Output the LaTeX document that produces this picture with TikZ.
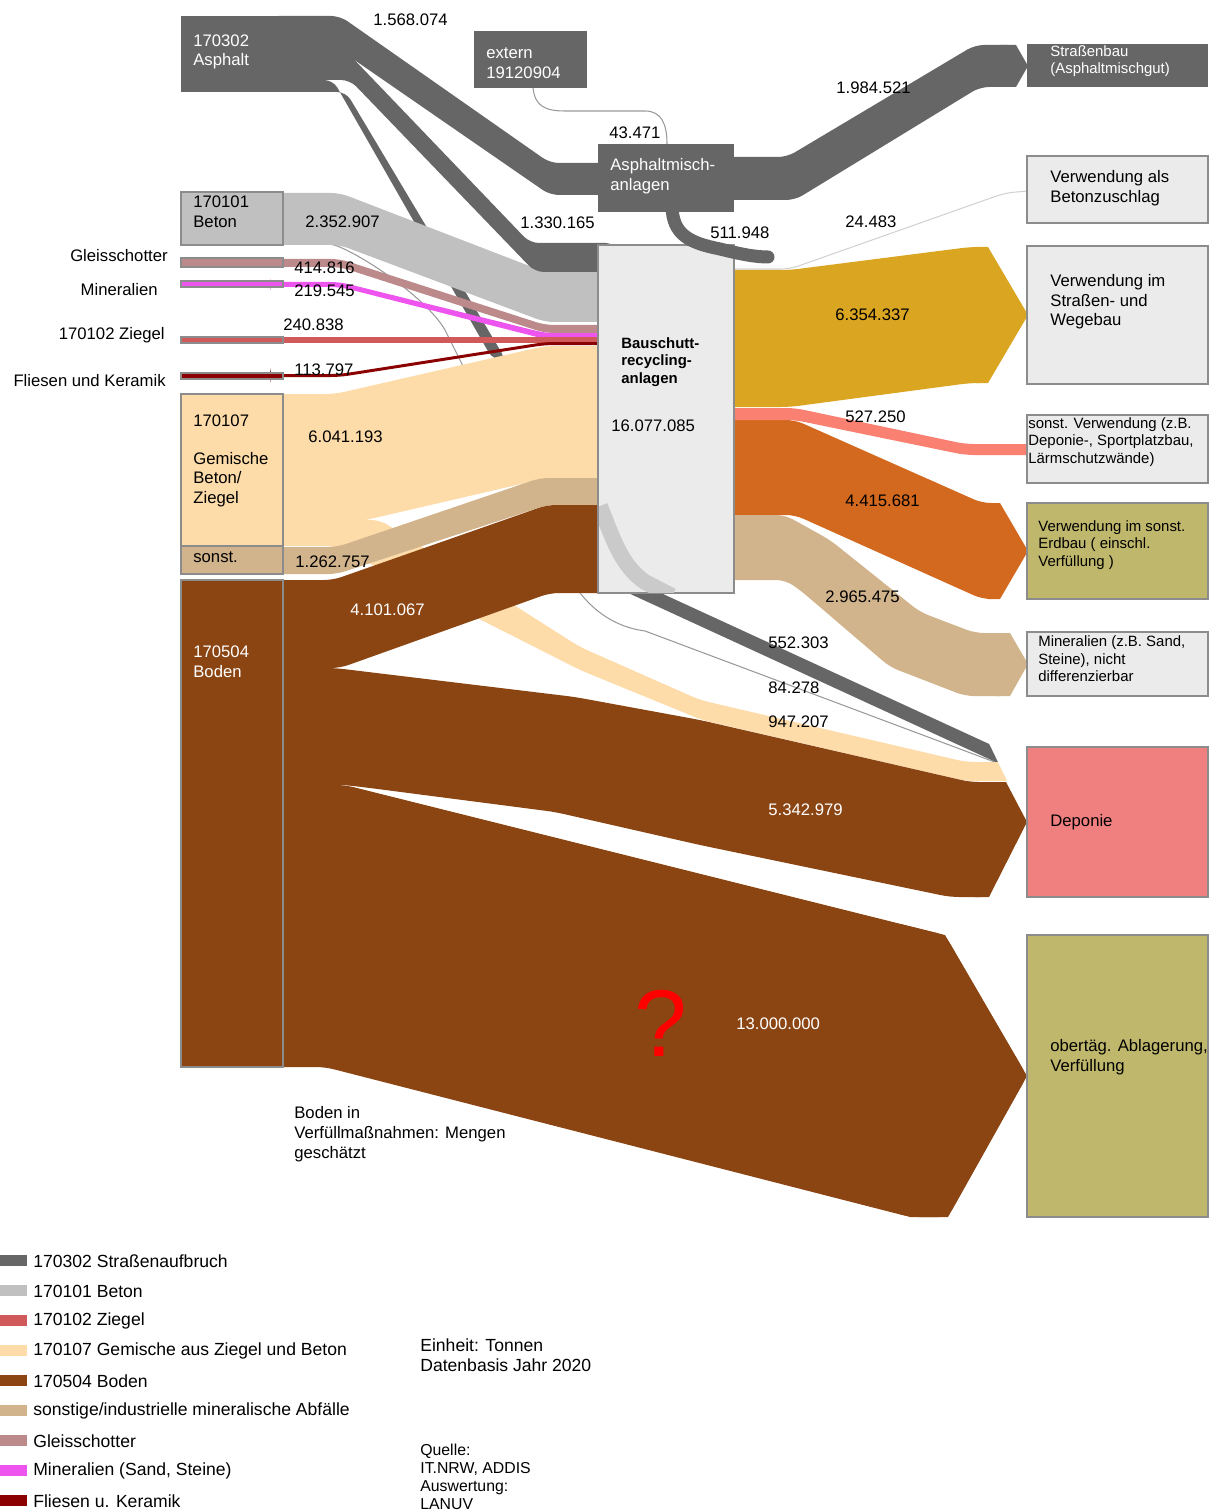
\documentclass[tikz,border=0pt]{standalone}
\usepackage{fontspec}
\setmainfont{Liberation Sans}

\definecolor{asphalt}{HTML}{666666}
\definecolor{beton}{HTML}{C0C0C0}
\definecolor{boxfill}{HTML}{EBEBEB}
\definecolor{boxline}{HTML}{8C8C8C}
\definecolor{lightflow}{HTML}{CACACA}
\definecolor{gleis}{HTML}{BC8A8A}
\definecolor{mineral}{HTML}{EE55EE}
\definecolor{ziegel}{HTML}{D05A5A}
\definecolor{fliesen}{HTML}{8B0000}
\definecolor{gemisch}{HTML}{FDDCA9}
\definecolor{sonst}{HTML}{D2B48C}
\definecolor{boden}{HTML}{8B4513}
\definecolor{strasse}{HTML}{DAA520}
\definecolor{lachs}{HTML}{FA8072}
\definecolor{erdbau}{HTML}{D2691E}
\definecolor{oliv}{HTML}{BFB76B}
\definecolor{deponie}{HTML}{F08080}

\newcommand\lblsize{\fontsize{9.5}{11.2}\selectfont}
\newcommand\boxsize{\fontsize{8.5}{9.9}\selectfont}
\newcommand\legsize{\fontsize{10}{12}\selectfont}

\begin{document}
\begin{tikzpicture}[x=0.02cm, y=-0.02cm,
    lbl/.style={font=\lblsize, inner sep=0pt, anchor=west, align=left},
    lblw/.style={lbl, text=white},
    boxtxt/.style={font=\boxsize, inner sep=0pt, anchor=west, align=left},
    side/.style={font=\lblsize, inner sep=0pt, anchor=east},
    legtxt/.style={font=\legsize, inner sep=0pt, anchor=west},
    box/.style={draw=boxline, line width=0.7pt},
    band/.style={rounded corners=5pt},
    thinflow/.style={draw=gray!80, line width=0.6pt}]

\useasboundingbox (0,0) rectangle (1213,1510);

% Beton to Deponie (thin line, mostly hidden)
\draw[thinflow] (330,244) .. controls (350,247) and (425,295) .. (445,330) -- (560,560) .. controls (575,592) and (600,625) .. (645,631) -- (1000,764);

% Strassenaufbruch to Deponie
\fill[asphalt, band] (270,80) -- (333,80) -- (493,360) -- (506,360) -- (346,92) -- (270,92) -- cycle;
\fill[asphalt] (600,565) -- (1000,749) -- (1000,764) -- (600,580) -- cycle;

% Gemische to Deponie
\fill[gemisch, band] (270,520) -- (380,520) -- (580,647) -- (700,700) -- (966,762) -- (1020,762) -- (1020,781) -- (966,781) -- (702,720) -- (580,670) -- (335,546) -- (270,546) -- cycle;

% cut of the flows at Deponie
\fill[white] (985,735) -- (1030,735) -- (1030,822) -- (1027,822) -- cycle;

% inputs of Bauschuttrecycling
\fill[beton, band] (270,193) -- (340,193) -- (545,272) -- (615,272) -- (615,322) -- (545,322) -- (340,245) -- (270,245) -- cycle;
\fill[gleis, band] (270,259) -- (340,259) -- (545,325) -- (615,325) -- (615,333) -- (545,333) -- (340,267) -- (270,267) -- cycle;
\fill[mineral, band] (270,282) -- (340,282) -- (545,333) -- (615,333) -- (615,339) -- (545,339) -- (340,287) -- (270,287) -- cycle;
\fill[ziegel] (270,337) rectangle (615,343);
\fill[fliesen, band] (270,374) -- (340,374) -- (545,342) -- (615,342) -- (615,345) -- (545,345) -- (340,377) -- (270,377) -- cycle;

% Strassenaufbruch to Bauschuttrecycling and Asphaltmischanlagen
\fill[asphalt, band] (270,50) -- (345,50) -- (530,243) -- (615,243) -- (615,272) -- (535,272) -- (350,80) -- (270,80) -- cycle;
\fill[asphalt, band] (270,16) -- (340,16) -- (550,163) -- (615,163) -- (615,195) -- (550,195) -- (340,50) -- (270,50) -- cycle;

% Gemische, sonst. and Boden
\fill[gemisch, band] (270,394) -- (335,394) -- (545,346) -- (615,346) -- (615,478) -- (547,478) -- (340,526) -- (270,526) -- cycle;
\fill[sonst, band] (270,547) -- (337,547) -- (540,478) -- (615,478) -- (615,505) -- (547,505) -- (337,574) -- (270,574) -- cycle;
\fill[boden, band] (270,580) -- (333,580) -- (547,505) -- (615,505) -- (615,593) -- (550,593) -- (340,668) -- (270,668) -- cycle;
\fill[boden, band] (270,668) -- (335,668) -- (575,697) -- (700,720) -- (970,782) -- (1006,782) -- (989,897) -- (950,897) -- (700,845) -- (555,812) -- (370,788) -- (345,785) -- (270,785) -- cycle;
\fill[boden] (975,782) -- (1006,782) -- (1027,822) -- (989,897) -- (975,897) -- cycle;
\fill[boden, band] (270,785) -- (345,785) -- (945,935) -- (1027,1076) -- (948,1217) -- (910,1217) -- (325,1067) -- (270,1067) -- cycle;
\fill[boden] (900,924) -- (945,935) -- (1027,1076) -- (948,1217) -- (910,1217) -- (900,1214) -- cycle;

% outputs
\fill[asphalt, band] (720,157) -- (787,157) -- (975,45) -- (1016,45) -- (1016,87) -- (980,87) -- (795,200) -- (720,200) -- cycle;
\fill[asphalt] (1000,45) -- (1016,45) -- (1028,66) -- (1016,87) -- (1000,87) -- cycle;
\draw[gray!35, line width=0.6pt, rounded corners=5pt] (720,269) -- (790,269) -- (1005,193) -- (1040,190);
\fill[strasse, band] (720,270) -- (790,270) -- (970,247) -- (988,247) -- (988,383) -- (970,383) -- (790,407) -- (720,407) -- cycle;
\fill[strasse] (976,247) -- (988,247) -- (1028,315) -- (988,383) -- (976,383) -- cycle;
\fill[erdbau, band] (720,420) -- (795,420) -- (982,503) -- (1000,503) -- (1000,599) -- (982,599) -- (795,515) -- (720,515) -- cycle;
\fill[erdbau] (988,503) -- (1000,503) -- (1028,551) -- (1000,599) -- (988,599) -- cycle;
\fill[lachs, band] (720,408) -- (795,408) -- (965,444) -- (1040,444) -- (1040,455) -- (965,455) -- (795,420) -- (720,420) -- cycle;
\fill[sonst, band] (720,515) -- (785,515) -- (830,540) -- (920,612) -- (975,633) -- (1010,633) -- (1010,696) -- (965,696) -- (890,667) -- (800,590) -- (785,580) -- (720,580) -- cycle;
\fill[sonst] (995,633) -- (1010,633) -- (1028,664) -- (1010,696) -- (995,696) -- cycle;

% extern to Asphaltmischanlagen
\draw[thinflow] (533,88) .. controls (535,106) and (545,111) .. (565,111) -- (645,111) .. controls (662,111) and (667,125) .. (667,144);

% left boxes
\fill[asphalt] (181,16) rectangle (283,92);
\draw[box, fill=beton] (181,192) rectangle (283,245);
\draw[box, fill=gleis] (181,258) rectangle (283,267);
\draw[box, fill=mineral] (181,281) rectangle (283,287);
\draw[box, fill=ziegel] (181,337) rectangle (283,343);
\draw[box, fill=fliesen] (181,373) rectangle (283,379);
\draw[box, fill=gemisch] (181,394) rectangle (283,546);
\draw[box, fill=sonst] (181,546) rectangle (283,574);
\draw[box, fill=boden] (181,580) rectangle (283,1067);

% middle boxes
\fill[asphalt] (474,31) rectangle (587,88);
\draw[box, fill=boxfill] (598,245) rectangle (734,593);
\begin{scope}
  \clip (599,246) rectangle (733,592);
  \draw[lightflow, line width=9pt] (600,506) .. controls (614,542) and (622,566) .. (645,582) -- (672,596);
\end{scope}
\draw[asphalt, line width=7.4pt, line cap=round] (672,205) .. controls (672,235) and (690,243) .. (720,249) .. controls (740,254) and (755,257) .. (768,257);
\fill[asphalt] (598,144) rectangle (734,212);

% right boxes
\fill[asphalt] (1027,44) rectangle (1208,87);
\draw[box, fill=boxfill] (1027,156) rectangle (1208,223);
\draw[box, fill=boxfill] (1027,246) rectangle (1208,384);
\draw[box, fill=boxfill] (1027,415) rectangle (1208,483);
\draw[box, fill=oliv] (1027,503) rectangle (1208,599);
\draw[box, fill=boxfill] (1027,632) rectangle (1208,696);
\draw[box, fill=deponie] (1027,747) rectangle (1208,897);
\draw[box, fill=oliv] (1027,935) rectangle (1208,1217);

% box texts
\node[lblw] (tAsphalt) at (193,52) {170302\\Asphalt};
\node[lbl] (tBeton) at (193,212) {170101\\Beton};
\node[side] (tGleis) at (168,256) {Gleisschotter};
\node[side] (tMineral) at (158,290) {Mineralien};
\node[side] (tZiegel) at (165,335) {170102 Ziegel};
\node[side] (tFliesen) at (166,381) {Fliesen und Keramik};
\node[lbl] (tGemisch) at (193,461) {170107\\[10pt]Gemische\\Beton/\\Ziegel};
\node[lbl] (tSonst) at (193,557) {sonst.};
\node[lblw] (tBoden) at (193,662) {170504\\Boden};
\node[lblw] (tExtern) at (486,63) {extern\\19120904};
\node[lblw] (tMisch) at (610,176) {Asphaltmisch-\\anlagen};
\node[boxtxt, font=\boxsize\bfseries] (tRecycling) at (621,362) {Bauschutt-\\recycling-\\anlagen};
\node[lbl] (tTotal) at (611,426) {16.077.085};
\node[boxtxt, text=white] (tStrasse) at (1050,61) {Straßenbau\\(Asphaltmischgut)};
\node[lbl] (tZuschlag) at (1050,188) {Verwendung als\\Betonzuschlag};
\node[lbl] (tWegebau) at (1050,302) {Verwendung im\\Straßen- und\\Wegebau};
\node[boxtxt] (tSonstVerw) at (1028,442) {sonst. Verwendung (z.B.\\Deponie-, Sportplatzbau,\\Lärmschutzwände)};
\node[boxtxt] (tErdbau) at (1038,545) {Verwendung im sonst.\\Erdbau ( einschl.\\Verfüllung )};
\node[boxtxt] (tMinDiff) at (1038,659) {Mineralien (z.B. Sand,\\Steine), nicht\\differenzierbar};
\node[lbl] (tDeponie) at (1050,822) {Deponie};
\node[lbl] (tAblagerung) at (1050,1057) {obertäg. Ablagerung,\\Verfüllung};
\node[lbl] (tGeschaetzt) at (294,1134) {Boden in\\Verfüllmaßnahmen: Mengen\\geschätzt};

% flow values
\node[lbl] (vAsphMisch) at (373,20) {1.568.074};
\node[lbl] (vExtern) at (609,133) {43.471};
\node[lbl] (vStrasse) at (836,88) {1.984.521};
\node[lbl] (vBeton) at (305,222) {2.352.907};
\node[lbl] (vAsphRec) at (520,223) {1.330.165};
\node[lbl] (vMischRec) at (710,233) {511.948};
\node[lbl] (vZuschlag) at (845,222) {24.483};
\node[lbl] (vWegebau) at (835,315) {6.354.337};
\node[lbl] (vGleis) at (294,268) {414.816};
\node[lbl] (vMineral) at (294,291) {219.545};
\node[lbl] (vZiegel) at (283,325) {240.838};
\node[lbl] (vFliesen) at (294,370) {113.797};
\node[lbl] (vSonstVerw) at (845,417) {527.250};
\node[lbl] (vGemisch) at (308,437) {6.041.193};
\node[lbl] (vErdbau) at (845,501) {4.415.681};
\node[lbl] (vSonst) at (295,562) {1.262.757};
\node[lbl] (vMinDiff) at (825,597) {2.965.475};
\node[lblw] (vBodenRec) at (350,610) {4.101.067};
\node[lbl] (vAsphDep) at (768,643) {552.303};
\node[lbl] (vBetonDep) at (768,688) {84.278};
\node[lbl] (vGemDep) at (768,722) {947.207};
\node[lblw] (vBodenDep) at (768,810) {5.342.979};
\node[lblw] (vBodenVerf) at (736,1024) {13.000.000};
\node[font=\fontsize{54}{58}\selectfont, text=red, inner sep=0pt] (qmark) at (661,1023) {?};

% legend
\foreach \col/\txt [count=\i from 0] in {asphalt/170302 Straßenaufbruch, beton/170101 Beton, ziegel/170102 Ziegel, gemisch/170107 Gemische aus Ziegel und Beton, boden/170504 Boden, sonst/{sonstige/industrielle mineralische Abfälle}, gleis/Gleisschotter, mineral/{Mineralien (Sand, Steine)}, fliesen/Fliesen u. Keramik}
{
  \fill[\col] (0,1255+30*\i) rectangle (27,1266+30*\i);
  \node[legtxt] (leg\i) at (33,1261+30*\i) {\txt};
}

% notes
\node[lbl, font=\fontsize{10}{11.3}\selectfont] (einheit) at (420,1355) {Einheit: Tonnen\\Datenbasis Jahr 2020};
\node[lbl, font=\fontsize{9}{10.2}\selectfont] (quelle) at (420,1477) {Quelle:\\IT.NRW, ADDIS\\Auswertung:\\LANUV};
\end{tikzpicture}
\end{document}
